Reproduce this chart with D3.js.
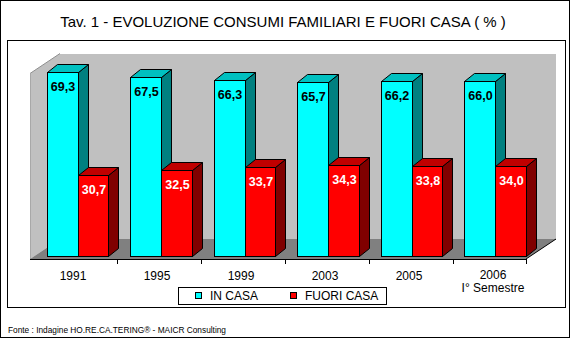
<!DOCTYPE html>
<html>
<head>
<meta charset="utf-8">
<script src="https://cdn.jsdelivr.net/npm/d3@7"></script>
<style>
  html, body { margin: 0; padding: 0; background: #fff; }
  svg { display: block; font-family: Arial, "Liberation Sans", sans-serif; }
</style>
</head>
<body>
<svg id="chart" width="571" height="339"></svg>
<script>
// ---- data ----
const years = ["1991", "1995", "1999", "2003", "2005", "2006"];
const yearLabels = [["1991"], ["1995"], ["1999"], ["2003"], ["2005"], ["2006", "I° Semestre"]];
const inCasa = [69.3, 67.5, 66.3, 65.7, 66.2, 66.0];
const fuoriCasa = [30.7, 32.5, 33.7, 34.3, 33.8, 34.0];
const seriesNames = ["IN CASA", "FUORI CASA"];
const yDomain = [0, 70];
const titleText = "Tav. 1 - EVOLUZIONE CONSUMI FAMILIARI E FUORI CASA ( % )";
const sourceText = "Fonte : Indagine HO.RE.CA.TERING® - MAICR Consulting";

// ---- layout ----
const W = 571, H = 339;
const floorFront = { left: 30, right: 526, y: 259 };
const depth = { dx: 30, dy: -20 };        // floor / wall depth
const barPlane = { dy: -3 };              // bars stand slightly behind the floor front edge
const barDepth = { dx: 10, dy: -8 };      // 3D thickness of each bar

const colors = {
  front: ["#00FFFF", "#FF0000"],
  top:   ["#00C0C0", "#C00000"],
  side:  ["#008080", "#800000"],
  label: ["#000000", "#FFFFFF"]
};

const svg = d3.select("#chart");

// scales
const y = d3.scaleLinear().domain(yDomain)
  .range([floorFront.y + barPlane.dy, floorFront.y + barPlane.dy - 185.5]);

const xBar = d3.scaleBand().domain(years)
  .range([35.75, 536.75]).paddingInner(0.2575).paddingOuter(0.12875);
const barW = xBar.bandwidth() / 2;

const xAxis = d3.scaleBand().domain(years).range([33, 537]);

// ---- frame ----
svg.append("rect").attr("x", 0.5).attr("y", 0.5).attr("width", 569).attr("height", 337)
  .attr("fill", "#fff").attr("stroke", "#000");

svg.append("text").attr("x", 283).attr("y", 26.5).attr("text-anchor", "middle")
  .attr("font-size", 15).attr("fill", "#000").text(titleText);

svg.append("rect").attr("x", 7.5).attr("y", 40.5).attr("width", 558).attr("height", 267)
  .attr("fill", "#fff").attr("stroke", "#000");

// ---- walls and floor ----
const topFront = y(yDomain[1]) - barPlane.dy;       // wall height on the front plane
const topBack = topFront + depth.dy;
const backY = floorFront.y + depth.dy;
const g3d = svg.append("g").attr("shape-rendering", "crispEdges");

// back wall
g3d.append("rect")
  .attr("x", floorFront.left + depth.dx).attr("y", topBack)
  .attr("width", floorFront.right - floorFront.left)
  .attr("height", backY - topBack)
  .attr("fill", "#C0C0C0");

// side wall
svg.append("polygon")
  .attr("points", [
    [floorFront.left, floorFront.y], [floorFront.left, topFront],
    [floorFront.left + depth.dx, topBack], [floorFront.left + depth.dx, backY]
  ].map(p => p.join(",")).join(" "))
  .attr("fill", "#C0C0C0");
svg.append("line")
  .attr("x1", floorFront.left).attr("y1", topFront)
  .attr("x2", floorFront.left + depth.dx).attr("y2", topBack)
  .attr("stroke", "#909090").attr("stroke-width", 1);
svg.append("line")
  .attr("x1", floorFront.left + 0.5).attr("y1", topFront)
  .attr("x2", floorFront.left + 0.5).attr("y2", floorFront.y)
  .attr("stroke", "#A8A8A8").attr("stroke-width", 1);

// floor
svg.append("polygon")
  .attr("points", [
    [floorFront.left, floorFront.y], [floorFront.right, floorFront.y],
    [floorFront.right + depth.dx, backY], [floorFront.left + depth.dx, backY]
  ].map(p => p.join(",")).join(" "))
  .attr("fill", "#808080");
svg.append("line")
  .attr("x1", floorFront.right).attr("y1", floorFront.y)
  .attr("x2", floorFront.right + depth.dx).attr("y2", backY)
  .attr("stroke", "#000").attr("stroke-width", 1);
g3d.append("line")
  .attr("x1", floorFront.left + depth.dx).attr("y1", backY + 0.5)
  .attr("x2", floorFront.right + depth.dx).attr("y2", backY + 0.5)
  .attr("stroke", "#606060").attr("stroke-width", 1);

// ---- bars ----
const series = [inCasa, fuoriCasa];
const barsG = svg.append("g");

years.forEach((yr, i) => {
  series.forEach((vals, s) => {
    const x0 = Math.round(xBar(yr) + s * barW) + 0.5;
    const x1 = Math.round(xBar(yr) + (s + 1) * barW) + 0.5;
    const yt = Math.round(y(vals[i])) + 0.5;
    const yb = Math.round(y(0)) + 0.5;
    const g = barsG.append("g").attr("stroke", "#000").attr("stroke-width", 1)
      .attr("stroke-linejoin", "miter");
    // side face
    g.append("polygon")
      .attr("points", [[x1, yb], [x1, yt], [x1 + barDepth.dx, yt + barDepth.dy], [x1 + barDepth.dx, yb + barDepth.dy]]
        .map(p => p.join(",")).join(" "))
      .attr("fill", colors.side[s]);
    // top face
    g.append("polygon")
      .attr("points", [[x0, yt], [x1, yt], [x1 + barDepth.dx, yt + barDepth.dy], [x0 + barDepth.dx, yt + barDepth.dy]]
        .map(p => p.join(",")).join(" "))
      .attr("fill", colors.top[s]);
    // front face
    g.append("rect")
      .attr("x", x0).attr("y", yt).attr("width", x1 - x0).attr("height", yb - yt)
      .attr("fill", colors.front[s]);
  });
});

// value labels
years.forEach((yr, i) => {
  series.forEach((vals, s) => {
    const cx = xBar(yr) + s * barW + barW / 2 + 1;
    svg.append("text")
      .attr("x", cx).attr("y", y(vals[i]) + 19)
      .attr("text-anchor", "middle")
      .attr("font-size", 12.5).attr("font-weight", "bold")
      .attr("fill", colors.label[s])
      .text(d3.format(".1f")(vals[i]).replace(".", ","));
  });
});

// ---- category axis ----
const axisG = svg.append("g").attr("shape-rendering", "crispEdges");
axisG.append("line")
  .attr("x1", floorFront.left).attr("y1", floorFront.y + 0.5)
  .attr("x2", floorFront.right).attr("y2", floorFront.y + 0.5)
  .attr("stroke", "#000");
const tickXs = years.slice(1).map(d => xAxis(d)).concat([floorFront.right]);
axisG.selectAll("line.tick").data(tickXs).enter().append("line")
  .attr("class", "tick")
  .attr("x1", d => Math.round(d) + 0.5).attr("x2", d => Math.round(d) + 0.5)
  .attr("y1", floorFront.y).attr("y2", floorFront.y + 5)
  .attr("stroke", "#000");

years.forEach((yr, i) => {
  const lines = yearLabels[i];
  const cx = xAxis(yr) + xAxis.bandwidth() / 2 - 2;
  const baseY = lines.length > 1 ? 278.5 : 280;
  const t = svg.append("text").attr("text-anchor", "middle")
    .attr("font-size", 12).attr("fill", "#000");
  lines.forEach((ln, k) => {
    t.append("tspan").attr("x", cx).attr("y", baseY + k * 13.5).text(ln);
  });
});

// ---- legend ----
const legend = svg.append("g");
legend.append("rect").attr("x", 178.5).attr("y", 287.5).attr("width", 208).attr("height", 17)
  .attr("fill", "#fff").attr("stroke", "#000").attr("shape-rendering", "crispEdges");
const legendX = [195, 290];
seriesNames.forEach((name, s) => {
  legend.append("rect")
    .attr("x", legendX[s] + 0.5).attr("y", 292.5).attr("width", 6).attr("height", 6)
    .attr("fill", colors.front[s]).attr("stroke", "#000").attr("shape-rendering", "crispEdges");
  legend.append("text")
    .attr("x", legendX[s] + 15).attr("y", 300)
    .attr("font-size", 12).attr("fill", "#000").text(name);
});

// ---- source note ----
svg.append("text").attr("x", 8).attr("y", 333)
  .attr("font-size", 9.5).attr("fill", "#000")
  .attr("textLength", 218).attr("lengthAdjust", "spacingAndGlyphs")
  .text(sourceText);
</script>
</body>
</html>
